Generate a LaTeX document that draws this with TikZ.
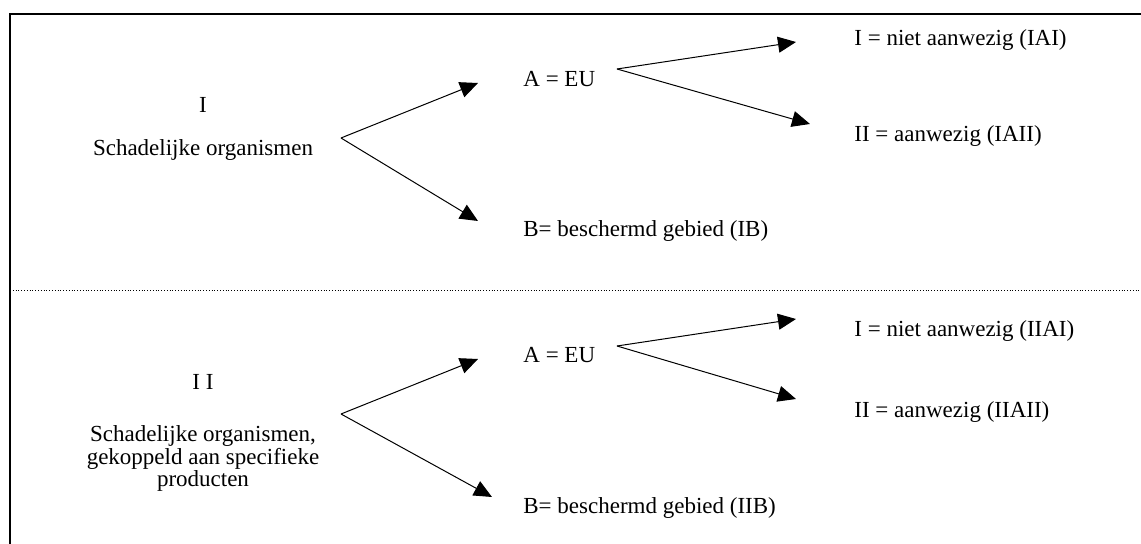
\documentclass[tikz,border=0pt]{standalone}
\usepackage{fontspec}
\setmainfont{Liberation Serif}
\usetikzlibrary{arrows.meta}

\begin{document}
\begin{tikzpicture}[
  x=0.5pt, y=-0.5pt,
  heading/.style={anchor=base, inner sep=0pt, align=center, font=\fontsize{11.5}{11.25}\selectfont},
  leaf/.style={anchor=base west, inner sep=0pt, font=\fontsize{11.5}{11.25}\selectfont},
  arrow/.style={-{Triangle[length=9pt, width=8pt]}, line width=0.5pt},
  frame/.style={line width=0.8pt},
  divider/.style={densely dotted, line width=0.4pt},
]
  \useasboundingbox (0,0) rectangle (1141,544);
  \draw[frame] (10,544) -- (10,14) -- (1141,14);
  \draw[divider] (10,290.5) -- (1141,290.5);

  % section I
  \node[heading] (numI) at (203,113) {I};
  \node[heading] (orgI) at (203,156) {Schadelijke organismen};
  \node[leaf] (euI) at (523,87) {A = EU};
  \node[leaf] (gebI) at (523,237) {B= beschermd gebied (IB)};
  \node[leaf] (iaiI) at (854,46) {I = niet aanwezig (IAI)};
  \node[leaf] (iaiiI) at (854,142) {II = aanwezig (IAII)};

  \coordinate (forkI) at (341,138);
  \coordinate (tipEuI) at (478,83);
  \coordinate (tipGebI) at (478,221);
  \coordinate (forkEuI) at (617,69);
  \coordinate (tipIaiI) at (796,42);
  \coordinate (tipIaiiI) at (810,124);

  \draw[arrow] (forkI) -- (tipEuI);
  \draw[arrow] (forkI) -- (tipGebI);
  \draw[arrow] (forkEuI) -- (tipIaiI);
  \draw[arrow] (forkEuI) -- (tipIaiiI);

  % section II (base of a multi-line node = its last line)
  \node[heading] (numII) at (203,390) {I I};
  \node[heading] (orgII) at (203,487) {Schadelijke organismen,\\gekoppeld aan specifieke\\producten};
  \node[leaf] (euII) at (523,363) {A = EU};
  \node[leaf] (gebII) at (523,514) {B= beschermd gebied (IIB)};
  \node[leaf] (iaiII) at (854,337) {I = niet aanwezig (IIAI)};
  \node[leaf] (iaiiII) at (854,418) {II = aanwezig (IIAII)};

  \coordinate (forkII) at (341,414);
  \coordinate (tipEuII) at (478,359);
  \coordinate (tipGebII) at (492,497);
  \coordinate (forkEuII) at (617,346);
  \coordinate (tipIaiII) at (796,319);
  \coordinate (tipIaiiII) at (796,399);

  \draw[arrow] (forkII) -- (tipEuII);
  \draw[arrow] (forkII) -- (tipGebII);
  \draw[arrow] (forkEuII) -- (tipIaiII);
  \draw[arrow] (forkEuII) -- (tipIaiiII);
\end{tikzpicture}
\end{document}
